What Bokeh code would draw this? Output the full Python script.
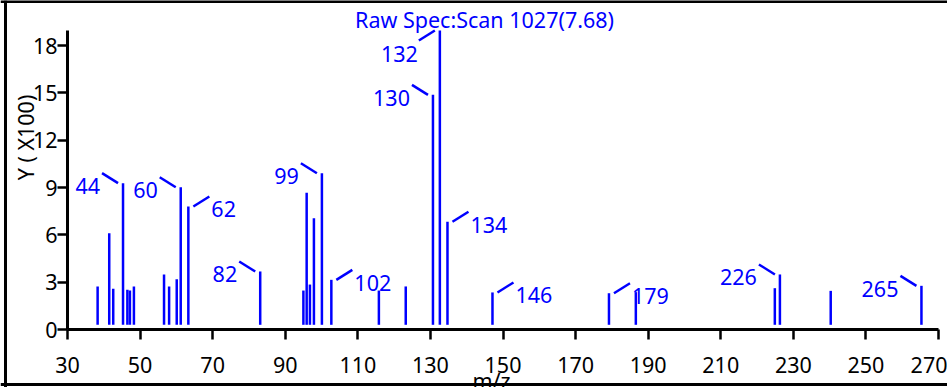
import math
from bokeh.plotting import figure
from bokeh.models import Range1d, FixedTicker, Label, ColumnDataSource, Span
from bokeh.core.properties import value
from bokeh.embed import file_html
from bokeh.resources import INLINE

# ---- data ----
peak_mz = [38.3, 41.5, 42.6, 45.3, 46.5, 47.2, 48.3, 56.6, 58.0, 60.1, 61.2, 63.3,
           83.1, 95.0, 95.9, 96.8, 97.9, 100.1, 102.7, 115.8, 123.2, 130.7, 132.6,
           134.7, 147.1, 179.2, 186.6, 224.9, 226.3, 240.3, 265.3]
peak_int = [2.73, 6.10, 2.58, 9.28, 2.52, 2.47, 2.73, 3.49, 2.73, 3.19, 9.02, 7.80,
            3.68, 2.47, 8.67, 2.85, 7.06, 9.91, 3.15, 2.47, 2.73, 14.88, 18.96,
            6.83, 2.35, 2.30, 2.37, 2.62, 3.49, 2.45, 2.77]

label_text = ["44", "60", "62", "82", "99", "102", "130", "132", "134", "146", "179", "226", "265"]
label_peak = [45.3, 61.2, 63.3, 83.1, 100.1, 102.7, 130.7, 132.6, 134.7, 147.1, 179.2, 226.3, 265.3]
label_dir = ["ul", "ul", "ur", "ul", "ul", "ur", "ul", "dl", "ur", "ur", "ur", "ul", "ul"]

x_ticks = [30, 50, 70, 90, 110, 130, 150, 170, 190, 210, 230, 250, 270]
y_ticks = [0, 3, 6, 9, 12, 15, 18]

title_text = "Raw Spec:Scan 1027(7.68)"
x_title = "m/z"
y_title = "Y ( X100)"

# ---- layout (pixels of the picture) ----
AX_X0, AX_X1 = 30, 270
AX_Y0, AX_Y1 = 0, 18.96
WIN_LEFT, WIN_RIGHT = 67, 938     # x axis ends, px
WIN_BOTTOM, WIN_TOP = 329, 30     # y axis ends, px
W, H = 947, 387
XP = (WIN_RIGHT - WIN_LEFT) / (AX_X1 - AX_X0)
YP = (WIN_BOTTOM - WIN_TOP) / (AX_Y1 - AX_Y0)


def wx(px):
    return AX_X0 + (px - WIN_LEFT) / XP


def wy(py):
    return AX_Y0 + (WIN_BOTTOM - py) / YP


BASE = 4.7 / YP
BLUE = "#0000ff"
FONT = "Noto Sans"
FS = "21.5px"

p = figure(width=W, height=H, output_backend="svg", toolbar_location=None,
           x_range=Range1d(wx(0), wx(W)),
           y_range=Range1d(wy(H), wy(0)),
           min_border=0, min_border_left=0, min_border_right=0,
           min_border_top=0, min_border_bottom=0)
p.grid.visible = False
p.outline_line_color = None
p.background_fill_color = "white"
p.border_fill_color = "white"

for ax in (p.xaxis[0], p.yaxis[0]):
    ax.axis_line_width = 3
    ax.axis_line_color = "black"
    ax.major_tick_line_width = 2.5
    ax.major_tick_line_color = "black"
    ax.major_tick_in = 0
    ax.major_tick_out = 10
    ax.minor_tick_line_color = None
    ax.major_label_text_font = FONT
    ax.major_label_text_font_size = FS
    ax.major_label_text_color = "black"
p.xaxis[0].ticker = FixedTicker(ticks=x_ticks)
p.yaxis[0].ticker = FixedTicker(ticks=y_ticks)
p.xaxis[0].fixed_location = AX_Y0
p.yaxis[0].fixed_location = AX_X0
p.xaxis[0].bounds = (AX_X0, AX_X1)
p.yaxis[0].bounds = (AX_Y0, AX_Y1)
p.xaxis[0].major_label_standoff = 17
p.yaxis[0].major_label_standoff = 0

# outer border (left, top, bottom)
p.add_layout(Span(location=wx(5), dimension="height", line_color="black", line_width=3))
p.add_layout(Span(location=wy(1), dimension="width", line_color="black", line_width=3))
p.add_layout(Span(location=wy(384), dimension="width", line_color="black", line_width=3))

# bars
p.segment(x0=peak_mz, y0=[BASE] * len(peak_mz), x1=peak_mz, y1=peak_int,
          line_color=BLUE, line_width=2.5)

# peak labels
inten = dict(zip(peak_mz, peak_int))
cx0, cy0, cx1, cy1 = [], [], [], []
lx, ly, la = [], [], []
for t, m, d in zip(label_text, label_peak, label_dir):
    I = inten[m]
    if d == "ul":
        cx0.append(m - 5 / XP); cy0.append(I)
        cx1.append(m - 21 / XP); cy1.append(I + 10 / YP)
        lx.append(m - 23 / XP); ly.append(I - 3 / YP); la.append("right")
    elif d == "ur":
        cx0.append(m + 5 / XP); cy0.append(I)
        cx1.append(m + 21 / XP); cy1.append(I + 10 / YP)
        lx.append(m + 23 / XP); ly.append(I - 3 / YP); la.append("left")
    else:
        cx0.append(m - 5 / XP); cy0.append(I)
        cx1.append(m - 21 / XP); cy1.append(I - 10 / YP)
        lx.append(m - 22 / XP); ly.append(I - 23 / YP); la.append("right")

p.segment(x0=cx0, y0=cy0, x1=cx1, y1=cy1, line_color=BLUE, line_width=2.5)
src = ColumnDataSource(dict(x=lx, y=ly, t=label_text, a=la))
p.text(x="x", y="y", text="t", text_align="a", text_baseline="middle",
       text_font=value(FONT), text_font_size=FS, text_color=BLUE, source=src)

# title / axis titles
p.add_layout(Label(x=wx(484), y=wy(18.5), text=title_text,
                   text_align="center", text_baseline="middle",
                   text_font=FONT, text_font_size=FS, text_color=BLUE))
p.add_layout(Label(x=wx(491), y=wy(365), text=x_title,
                   text_align="center", text_baseline="top",
                   text_font=FONT, text_font_size=FS, text_color="black"))
p.add_layout(Label(x=wx(25), y=wy(137), text=y_title,
                   angle=math.pi / 2, text_align="center", text_baseline="middle",
                   text_font=FONT, text_font_size=FS, text_color="black"))

open("out.html", "w").write(file_html(p, INLINE))
